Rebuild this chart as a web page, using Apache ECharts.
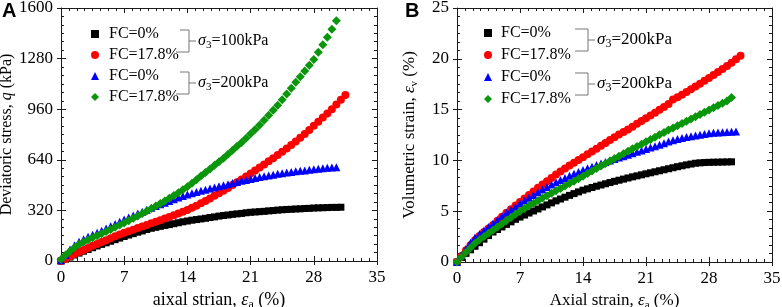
<!DOCTYPE html>
<html><head><meta charset="utf-8">
<script src="https://cdn.jsdelivr.net/npm/echarts@6/dist/echarts.min.js"></script>
<style>html,body{margin:0;padding:0;background:#fff}#c{width:782px;height:307px}</style>
</head><body><div id="c"></div>
<script>
// shared axial strain sample positions (%)
const strain = [0,0.5,1,1.5,2,2.5,3,3.5,4,4.5,5,5.5,6,6.5,7,7.5,8,8.5,9,9.5,10,10.5,11,11.5,12,12.5,13,13.5,14,14.5,15,15.5,16,16.5,17,17.5,18,18.5,19,19.5,20,20.5,21,21.5,22,22.5,23,23.5,24,24.5,25,25.5,26,26.5,27,27.5,28,28.5,29,29.5,30,30.5,31,31.5];
const xTicks = [0,7,14,21,28,35];
const qTicks = [0,320,640,960,1280,1600];
const evTicks = [0,5,10,15,20,25];

// Panel A: deviatoric stress q (kPa)
const qFC0_100 = [0,12,25,38,50,62,73,84,95,105,115,125,135,145,155,164,173,182,190,199,207,213,219,225,230,236,242,248,253,258,262,266,270,275,279,284,288,291,295,298,301,305,308,310,312,314,317,319,322,324,326,327,329,330,332,333,335,336,337,338,339,339,340];
const qFC178_100 = [0,15,30,44,57,70,83,96,108,120,132,144,156,167,178,188,198,208,218,228,238,248,258,268,278,289,300,311,322,336,350,365,380,396,412,428,444,462,480,498,516,535,554,573,592,611,631,650,670,691,712,734,756,779,803,829,855,881,907,933,960,990,1020,1050];
const qFC0_200 = [5,40,72,100,122,138,153,166,178,192,206,220,234,248,262,275,288,300,312,324,336,348,359,369,380,391,401,411,420,428,436,444,451,458,465,472,479,486,493,500,507,513,519,525,531,536,541,546,551,555,559,563,567,570,573,577,580,583,586,589,591,593];
const qFC178_200 = [10,38,62,86,106,120,134,147,160,173,187,200,213,227,240,255,270,285,300,316,332,348,364,380,397,414,432,450,470,492,514,537,560,582,605,627,650,675,700,725,750,777,804,832,860,890,921,953,985,1020,1056,1093,1130,1166,1202,1238,1275,1320,1368,1415,1465,1520];

// Panel B: volumetric strain (%)
const evFC0_a = [0,0.45,0.85,1.2,1.55,1.9,2.25,2.6,2.95,3.2,3.45,3.7,3.95,4.2,4.42,4.62,4.82,5.02,5.22,5.42,5.62,5.82,6.02,6.2,6.38,6.56,6.73,6.9,7.07,7.2,7.33,7.46,7.58,7.7,7.82,7.94,8.05,8.16,8.27,8.38,8.48,8.58,8.68,8.78,8.88,8.98,9.08,9.18,9.28,9.38,9.47,9.56,9.64,9.72,9.76,9.79,9.81,9.82,9.83,9.84,9.85,9.86];
const evFC178_a = [0,0.6,1.15,1.65,2.15,2.55,2.95,3.3,3.65,4.05,4.45,4.85,5.2,5.55,5.9,6.25,6.6,6.95,7.3,7.62,7.95,8.27,8.6,8.9,9.2,9.5,9.78,10.05,10.32,10.6,10.88,11.15,11.45,11.72,12.0,12.28,12.55,12.8,13.05,13.3,13.6,13.88,14.15,14.42,14.7,14.98,15.25,15.55,16.0,16.22,16.45,16.72,17.0,17.28,17.55,17.85,18.12,18.4,18.7,19.0,19.3,19.6,19.95,20.3];
const evFC0_b = [0,0.7,1.3,1.9,2.4,2.75,3.1,3.45,3.8,4.15,4.5,4.85,5.15,5.45,5.75,6.05,6.33,6.6,6.87,7.13,7.38,7.62,7.85,8.07,8.28,8.48,8.68,8.87,9.05,9.22,9.38,9.54,9.7,9.85,10.0,10.14,10.28,10.42,10.56,10.7,10.84,10.98,11.12,11.26,11.4,11.55,11.7,11.85,11.98,12.1,12.2,12.3,12.38,12.46,12.53,12.6,12.66,12.71,12.75,12.78,12.8,12.82,12.84];
const evFC178_b = [0,0.5,0.95,1.4,1.85,2.2,2.5,2.82,3.13,3.45,3.77,4.08,4.39,4.7,5.0,5.27,5.53,5.79,6.04,6.29,6.53,6.77,7.01,7.24,7.48,7.72,7.96,8.2,8.45,8.7,8.95,9.2,9.45,9.7,9.94,10.18,10.42,10.66,10.9,11.14,11.37,11.6,11.83,12.06,12.29,12.52,12.75,12.98,13.2,13.42,13.64,13.86,14.08,14.3,14.52,14.74,14.96,15.18,15.4,15.62,15.85,16.2];

const legendLabels = {a1:'FC=0%',a2:'FC=17.8%',a3:'FC=0%',a4:'FC=17.8%',b1:'FC=0%',b2:'FC=17.8%',b3:'FC=0%',b4:'FC=17.8%'};

const SERIF = 'Liberation Serif';
const AX = '#1a1a1a';
const TICK_FS = 17;
function pairs(ys){ return ys.map((v,i)=>[strain[i], v]); }

function richFor(fs){
  return {
    i:{fontFamily:SERIF,fontSize:fs,fontStyle:'italic',color:'#000',lineHeight:fs+4},
    sub:{fontFamily:SERIF,fontSize:fs-6,color:'#000',verticalAlign:'bottom',lineHeight:fs-6},
    n:{fontFamily:SERIF,fontSize:fs,color:'#000',lineHeight:fs+4}
  };
}

function xAxesFor(g, name, fs){
  const base = {gridIndex:g, type:'value', min:xTicks[0], max:xTicks[xTicks.length-1], interval:xTicks[1]-xTicks[0], splitLine:{show:false}};
  return [
    Object.assign({}, base, {position:'bottom', axisLine:{onZero:false, lineStyle:{color:AX,width:1}},
      axisTick:{inside:true,length:5,lineStyle:{color:AX}}, minorTick:{show:true,splitNumber:8,length:3,lineStyle:{color:AX}},
      axisLabel:{fontFamily:SERIF,fontSize:TICK_FS,color:'#000',margin:8,formatter:v=>String(v)},
      name:name, nameLocation:'middle', nameGap:22, nameTextStyle:{fontFamily:SERIF,fontSize:fs,color:'#000',rich:richFor(fs)}}),
    Object.assign({}, base, {position:'bottom', axisLine:{show:false}, axisTick:{inside:false,length:4,lineStyle:{color:AX}}, axisLabel:{show:false}}),
    Object.assign({}, base, {position:'top', axisLine:{onZero:false, lineStyle:{color:AX,width:1}},
      axisTick:{inside:true,length:5,lineStyle:{color:AX}}, minorTick:{show:true,splitNumber:8,length:3,lineStyle:{color:AX}}, axisLabel:{show:false}}),
    Object.assign({}, base, {position:'top', axisLine:{show:false}, axisTick:{inside:false,length:4,lineStyle:{color:AX}}, axisLabel:{show:false}})
  ];
}
function yAxesFor(g, ticks, name, gap, fs){
  const base = {gridIndex:g, type:'value', min:ticks[0], max:ticks[ticks.length-1], interval:ticks[1]-ticks[0], splitLine:{show:false}};
  return [
    Object.assign({}, base, {position:'left', axisLine:{onZero:false, lineStyle:{color:AX,width:1}},
      axisTick:{inside:true,length:5,lineStyle:{color:AX}}, minorTick:{show:true,splitNumber:6,length:3,lineStyle:{color:AX}},
      axisLabel:{fontFamily:SERIF,fontSize:TICK_FS,color:'#000',margin:8,formatter:v=>String(v)},
      name:name, nameLocation:'middle', nameGap:gap, nameTextStyle:{fontFamily:SERIF,fontSize:fs,color:'#000',rich:richFor(fs)}}),
    Object.assign({}, base, {position:'left', axisLine:{show:false}, axisTick:{inside:false,length:4,lineStyle:{color:AX}}, axisLabel:{show:false}}),
    Object.assign({}, base, {position:'right', axisLine:{onZero:false, lineStyle:{color:AX,width:1}},
      axisTick:{inside:true,length:5,lineStyle:{color:AX}}, minorTick:{show:true,splitNumber:6,length:3,lineStyle:{color:AX}}, axisLabel:{show:false}}),
    Object.assign({}, base, {position:'right', axisLine:{show:false}, axisTick:{inside:false,length:4,lineStyle:{color:AX}}, axisLabel:{show:false}})
  ];
}

const styles = {
  blk:{symbol:'rect', size:7, color:'#000000'},
  red:{symbol:'circle', size:8, color:'#ff0000'},
  blu:{symbol:'triangle', size:8, color:'#0000ff'},
  grn:{symbol:'diamond', size:9, color:'#0a960a'}
};
function sc(name, st, data, xi, yi){
  return {type:'scatter', name:name, xAxisIndex:xi, yAxisIndex:yi, symbol:st.symbol, symbolSize:st.size,
    itemStyle:{color:st.color, opacity:1}, data:pairs(data), animation:false, emphasis:{disabled:true}};
}

function bracket(x0,x1,y0,y1,xEndBottom,label,fs){
  const xm = x1, ym=(y0+y1)/2;
  return [
    {type:'polyline', shape:{points:[[x0,y0],[x1,y0],[x1,y1],[xEndBottom,y1]]}, style:{stroke:'#777',lineWidth:1,fill:null}, silent:true},
    {type:'line', shape:{x1:xm,y1:ym,x2:xm+7,y2:ym}, style:{stroke:'#777',lineWidth:1}, silent:true},
    {type:'text', x:xm+9, y:ym, style:{text:'{i|σ}{sub|3}{n|='+label+'}', verticalAlign:'middle', align:'left',
      rich:{i:{fontFamily:SERIF,fontSize:fs,fontStyle:'italic',fill:'#000',lineHeight:20},
            sub:{fontFamily:SERIF,fontSize:fs-5,fill:'#000',verticalAlign:'bottom',lineHeight:11},
            n:{fontFamily:SERIF,fontSize:fs,fill:'#000',lineHeight:20}}}, silent:true}
  ];
}

const chart = echarts.init(document.getElementById('c'), null, {renderer:'canvas'});
const legendText = pad => ({fontFamily:SERIF,fontSize:16,color:'#000',lineHeight:16,padding:[0,0,0,pad]});
const option = {
  animation:false,
  grid:[{left:61, top:8, width:316, height:253, containLabel:false, outerBoundsMode:'none'},
        {left:457, top:8, width:315, height:254, containLabel:false, outerBoundsMode:'none'}],
  xAxis: [].concat(
    xAxesFor(0, '{n|aixal strian, }{i|ε}{sub|a}{n| (%)}', 18),
    xAxesFor(1, '{n|Axial strain, }{i|ε}{sub|a}{n| (%)}', 17)),
  yAxis: [].concat(
    yAxesFor(0, qTicks, '{n|Deviatoric stress, }{i|q}{n| (kPa)}', 43, 16),
    yAxesFor(1, evTicks, '{n|Volumetric strain, }{i|ε}{sub|v}{n| (%)}', 37, 17)),
  legend:[
    {data:['a1','a2','a3','a4'], orient:'vertical', left:86, top:21, itemWidth:8, itemHeight:8, itemGap:5,
     formatter:n=>legendLabels[n], textStyle:legendText(5), selectedMode:false},
    {data:['b1','b2','b3','b4'], orient:'vertical', left:479, top:20, itemWidth:8, itemHeight:8, itemGap:6,
     formatter:n=>legendLabels[n], textStyle:legendText(4), selectedMode:false}
  ],
  series:[
    sc('a1', styles.blk, qFC0_100, 0, 0),
    sc('a2', styles.red, qFC178_100, 0, 0),
    sc('a3', styles.blu, qFC0_200, 0, 0),
    sc('a4', styles.grn, qFC178_200, 0, 0),
    sc('b1', styles.blk, evFC0_a, 4, 4),
    sc('b2', styles.red, evFC178_a, 4, 4),
    sc('b3', styles.blu, evFC0_b, 4, 4),
    sc('b4', styles.grn, evFC178_b, 4, 4)
  ],
  graphic:[].concat(
    [{type:'text', left:2, top:1, style:{text:'A', font:'bold 20px "Liberation Sans"', fill:'#000'}},
     {type:'text', left:405, top:1, style:{text:'B', font:'bold 20px "Liberation Sans"', fill:'#000'}}],
    bracket(180,189,30,52,176,'100kPa',16),
    bracket(180,189,72,94,176,'200kPa',16),
    bracket(575,588,29,51,575,'200kPa',17),
    bracket(575,588,73,95,575,'200kPa',17)
  )
};
chart.setOption(option);
</script></body></html>
